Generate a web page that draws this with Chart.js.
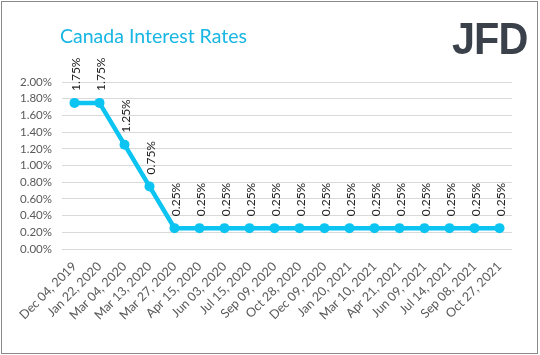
<!DOCTYPE html>
<html>
<head>
<meta charset="utf-8">
<script src="https://cdn.jsdelivr.net/npm/chart.js@4/dist/chart.umd.min.js"></script>
<style>
html,body{margin:0;padding:0;background:#fff;}
#wrap{position:relative;width:540px;height:355px;overflow:hidden;}
#c{position:absolute;left:0;top:0;}
#frame{position:absolute;left:1px;top:1px;width:535px;height:351px;border:1px solid #8a8a8a;pointer-events:none;}
#title{position:absolute;left:60px;top:24px;font-family:Lato,sans-serif;font-size:19.5px;color:#17b6e3;white-space:nowrap;}
#logo{position:absolute;left:452px;top:13px;font-family:"Liberation Sans",Arial,sans-serif;font-weight:bold;font-size:45px;color:#3a414a;letter-spacing:-1px;transform:scaleX(0.92);transform-origin:left top;white-space:nowrap;}
</style>
</head>
<body>
<div id="wrap">
<canvas id="c" width="540" height="355"></canvas>
<div id="title">Canada Interest Rates</div>
<div id="logo">JFD</div>
<div id="frame"></div>
</div>
<script>
const categories = ["Dec 04, 2019","Jan 22, 2020","Mar 04, 2020","Mar 13, 2020","Mar 27, 2020","Apr 15, 2020","Jun 03, 2020","Jul 15, 2020","Sep 09, 2020","Oct 28, 2020","Dec 09, 2020","Jan 20, 2021","Mar 10, 2021","Apr 21, 2021","Jun 09, 2021","Jul 14, 2021","Sep 08, 2021","Oct 27, 2021"];
const rates = [1.75,1.75,1.25,0.75,0.25,0.25,0.25,0.25,0.25,0.25,0.25,0.25,0.25,0.25,0.25,0.25,0.25,0.25];
const yTickMin = 0;
const yTickMax = 2;
const yTickStep = 0.2;

const labelPlugin = {
  id: 'valueLabels',
  afterDatasetsDraw(chart) {
    const ctx = chart.ctx;
    const meta = chart.getDatasetMeta(0);
    ctx.save();
    ctx.font = '12px Lato, sans-serif';
    ctx.fillStyle = '#222';
    ctx.textAlign = 'left';
    ctx.textBaseline = 'middle';
    meta.data.forEach((pt, i) => {
      ctx.save();
      ctx.translate(pt.x + 1.5, pt.y - 12);
      ctx.rotate(-Math.PI / 2);
      ctx.fillText(rates[i].toFixed(2) + '%', 0, 0);
      ctx.restore();
    });
    ctx.restore();
  }
};

new Chart(document.getElementById('c'), {
  type: 'line',
  data: {
    labels: categories,
    datasets: [{
      data: rates,
      borderColor: '#0cc4f2',
      backgroundColor: '#0cc4f2',
      borderWidth: 4.5,
      pointRadius: 5,
      pointBorderWidth: 0,
      pointHoverRadius: 5,
      tension: 0,
      fill: false
    }]
  },
  options: {
    responsive: false,
    animation: false,
    events: [],
    layout: { padding: { top: 82, right: 28, bottom: 0, left: 0 } },
    plugins: { legend: { display: false }, title: { display: false }, tooltip: { enabled: false } },
    scales: {
      x: {
        offset: true,
        grid: { display: false, drawTicks: false },
        border: { display: false },
        ticks: {
          autoSkip: false, maxRotation: 45, minRotation: 45, padding: 10,
          color: '#595959', font: { family: 'Lato, sans-serif', size: 12.5 }
        },
        afterFit(s) { s.height = 106; }
      },
      y: {
        min: yTickMin, max: yTickMax,
        grid: { color: '#d9d9d9', lineWidth: 1, drawTicks: false },
        border: { display: false },
        ticks: {
          autoSkip: false, stepSize: yTickStep, padding: 10,
          color: '#595959', font: { family: 'Lato, sans-serif', size: 11.5 },
          callback: v => v.toFixed(2) + '%'
        },
        afterFit(s) { s.width = 62; }
      }
    }
  },
  plugins: [labelPlugin]
});
</script>
</body>
</html>
